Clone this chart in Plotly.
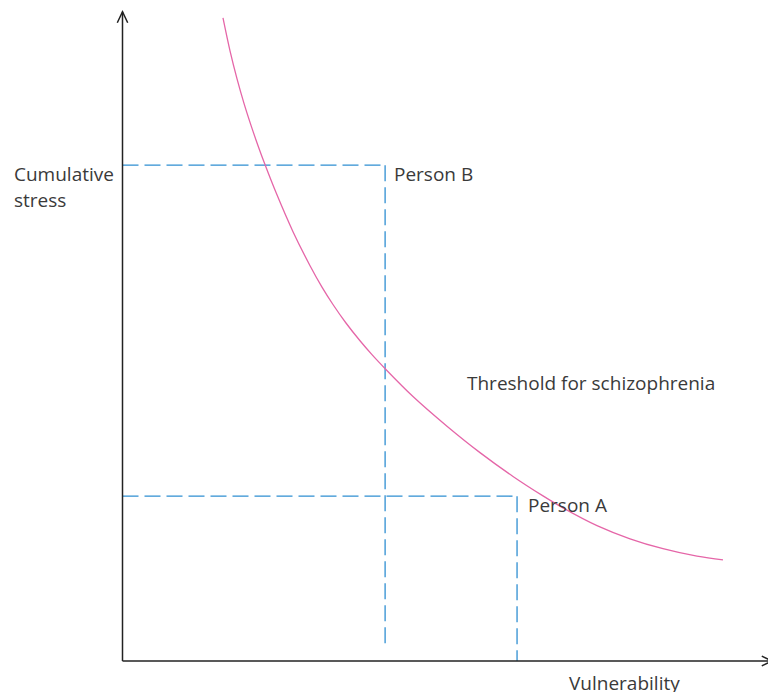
import plotly.graph_objects as go

# Threshold curve (vulnerability vs cumulative stress)
curve_x = [15.46, 16.54, 17.62, 18.69, 19.77, 20.85, 21.92, 23.62, 26.23, 28.85,
           30.69, 32.38, 34.38, 36.54, 38.38, 40.38, 44.69, 49.92, 55.00, 60.08,
           64.69, 67.77, 73.00, 78.08, 83.15, 88.38, 92.38]
curve_y = [99.08, 94.01, 89.69, 85.92, 82.53, 79.40, 76.49, 72.17, 66.15, 60.91,
           57.61, 54.93, 52.08, 49.34, 47.20, 45.07, 40.75, 36.18, 32.11, 28.44,
           25.44, 23.59, 20.86, 18.83, 17.30, 16.15, 15.59]

# Persons: vulnerability, cumulative stress
persons = ["Person B", "Person A"]
person_x = [40.4, 60.7]
person_y = [76.4, 25.4]
person_vline_bottom = [2.5, 0.0]

# page has an 8px body margin: figure spans page px 8..776, 8..692
xr = [(8 - 122.5) / 6.5, (776 - 122.5) / 6.5]
yr = [(661 - 692) / 6.49, (661 - 8) / 6.49]

TXT = dict(family="Open Sans, Noto Sans, sans-serif", size=19, color="#3a3a3a")
BLUE = "#2f8fd2"
PINK = "#e566a8"
AX = "#222222"

fig = go.Figure()

# dashed guides
for px, py, vb in zip(person_x, person_y, person_vline_bottom):
    fig.add_trace(go.Scatter(x=[0, px], y=[py, py], mode="lines",
                             line=dict(color=BLUE, width=1.3, dash="16px,6px"),
                             hoverinfo="skip", showlegend=False))
    fig.add_trace(go.Scatter(x=[px, px], y=[py, vb], mode="lines",
                             line=dict(color=BLUE, width=1.3, dash="16px,6px"),
                             hoverinfo="skip", showlegend=False))

fig.add_trace(go.Scatter(x=curve_x, y=curve_y, mode="lines",
                         line=dict(color=PINK, width=1.3, shape="spline", smoothing=1.0),
                         hoverinfo="skip", showlegend=False))

# axes with open arrowheads
fig.add_shape(type="line", x0=0, y0=0, x1=0, y1=100.05, line=dict(color=AX, width=1.5))
fig.add_shape(type="line", x0=0, y0=0, x1=99.9, y1=0, line=dict(color=AX, width=1.5))
fig.add_shape(type="path", path="M -0.8 98.35 L 0 100.05 L 0.8 98.35",
              line=dict(color=AX, width=1.5))
fig.add_shape(type="path", path="M 98.35 0.75 L 99.9 0 L 98.35 -0.75",
              line=dict(color=AX, width=1.5))

labels = [
    ("Cumulative", -17.0, 75.0),
    ("stress", -17.0, 71.0),
    (persons[0], 41.5, 75.0),
    ("Threshold for schizophrenia", 52.7, 42.8),
    (persons[1], 62.1, 24.0),
    ("Vulnerability", 68.4, -3.4),
]
for t, x, y in labels:
    fig.add_annotation(x=x, y=y, text=t, showarrow=False, xanchor="left",
                       yanchor="middle", font=TXT)

fig.update_layout(
    width=768, height=684, autosize=False,
    margin=dict(l=0, r=0, t=0, b=0),
    paper_bgcolor="white", plot_bgcolor="white",
    xaxis=dict(range=xr, visible=False, fixedrange=True),
    yaxis=dict(range=yr, visible=False, fixedrange=True),
)

fig.write_html("out.html")
